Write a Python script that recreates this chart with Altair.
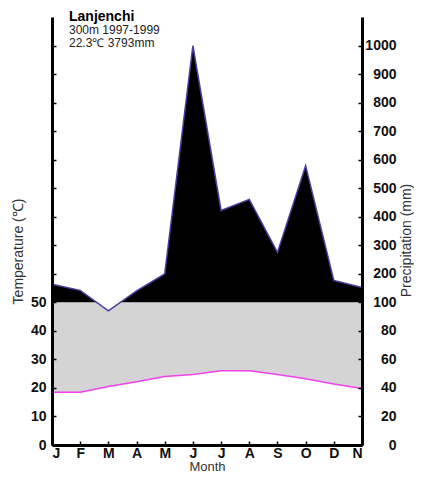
import altair as alt
import pandas as pd
import numpy as np

months = ["J", "F", "M", "A", "M", "J", "J", "A", "S", "O", "D", "N"]
temperature = [18.5, 18.5, 20.5, 22.2, 24.0, 24.7, 26.0, 26.0, 24.7, 23.2, 21.4, 19.8]
precipitation = [163, 142, 94, 140, 200, 1000, 422, 461, 275, 579, 177, 152]
title_text = "Lanjenchi"
sub1_text = "300m 1997-1999"
sub2_text = "22.3℃ 3793mm"

p = np.array(precipitation, dtype=float)
df = pd.DataFrame({
    "idx": list(range(len(months))),
    "temp": temperature,
    "precip": precipitation,
    # Walter-Lieth scaling: 100 mm = 50 C, above 100 mm compressed 1:10
    "pscaled": np.where(p <= 100, p / 2, 50 + (p - 100) / 10),
})

FONT = "Liberation Sans"
inward = alt.ExprRef(expr="-4")

yscale = alt.Scale(domain=[0, 150], nice=False, zero=False)
xscale = alt.Scale(domain=[0, 11], nice=False, zero=False)

label_expr_x = "[" + ",".join(f"'{m}'" for m in months) + "][datum.value]"

xaxis = alt.Axis(
    values=list(range(12)), labelExpr=label_expr_x, title="Month",
    tickSize=inward, tickColor="black", tickWidth=1.5,
    domainColor="black", domainWidth=3, labelPadding=5,
    labelFont=FONT, labelFontSize=14, labelFontWeight="bold", labelColor="#111",
    titleFont=FONT, titleFontSize=13, titleFontWeight="normal", titleColor="#333",
    titleY=25, titleBaseline="alphabetic", grid=False, zindex=1,
)
X = alt.X("idx:Q", scale=xscale, axis=xaxis)

left_axis = alt.Axis(
    orient="left", values=list(range(0, 150, 10)),
    labelExpr="datum.value <= 50 ? datum.value : ''",
    title="Temperature (℃)", titleAngle=270, titleX=-34, titleY=234,
    titleAlign="center", titleBaseline="middle",
    tickSize=inward, tickColor="black", tickWidth=1.5,
    domainColor="black", domainWidth=3, labelPadding=10,
    labelFont=FONT, labelFontSize=14, labelFontWeight="bold", labelColor="#111",
    titleFont=FONT, titleFontSize=14, titleFontWeight="normal", titleColor="#333",
    grid=False, zindex=1,
)
right_axis = alt.Axis(
    orient="right", values=list(range(0, 150, 10)),
    labelExpr="datum.value <= 50 ? datum.value * 2 : (datum.value - 50) * 10 + 100",
    labelAlign="right",
    title="Precipitation (mm)", titleAngle=270, titleX=44, titleY=223,
    titleAlign="center", titleBaseline="middle",
    tickSize=inward, tickColor="black", tickWidth=1.5,
    domainColor="black", domainWidth=3, labelPadding=38,
    labelFont=FONT, labelFontSize=14, labelFontWeight="bold", labelColor="#111",
    titleFont=FONT, titleFontSize=14, titleFontWeight="normal", titleColor="#333",
    grid=False, zindex=1,
)

base = alt.Chart(df)

gray = base.mark_area(color="#d4d4d4").encode(
    x=X, y=alt.Y("temp:Q", scale=yscale, axis=None), y2=alt.datum(50))
black = base.mark_area(color="black").encode(
    x=X, y=alt.Y("pscaled:Q", scale=yscale, axis=None), y2=alt.datum(50))
white = base.mark_area(color="white").encode(
    x=X, y=alt.Y("pscaled:Q", scale=yscale, axis=None), y2=alt.datum(150))
pline = base.mark_line(color="#4a3fa0", strokeWidth=1.5).encode(
    x=X, y=alt.Y("pscaled:Q", scale=yscale, axis=right_axis))
tline = base.mark_line(color="#f040f0", strokeWidth=1.5).encode(
    x=X, y=alt.Y("temp:Q", scale=yscale, axis=left_axis))

t1 = alt.Chart(alt.Data(values=[{"t": title_text}])).mark_text(
    align="left", baseline="alphabetic", font=FONT, fontSize=14,
    fontWeight="bold", color="black").encode(
    text="t:N", x=alt.value(17), y=alt.value(4))
t2 = alt.Chart(alt.Data(values=[{"t": sub1_text}])).mark_text(
    align="left", baseline="alphabetic", font=FONT, fontSize=12,
    color="#222").encode(text="t:N", x=alt.value(17), y=alt.value(17))
t3 = alt.Chart(alt.Data(values=[{"t": sub2_text}])).mark_text(
    align="left", baseline="alphabetic", font=FONT, fontSize=12,
    color="#222").encode(text="t:N", x=alt.value(17), y=alt.value(30))

chart = alt.layer(gray, black, white, pline, tline, t1, t2, t3).resolve_scale(
    y="independent").properties(
    width=310, height=428,
    autosize=alt.AutoSizeParams(type="none"),
    padding={"left": 44, "top": 9, "right": 52, "bottom": 27},
).configure_view(stroke=None).configure(background="white")

chart.save("out.html", embed_options={"renderer": "svg", "actions": False})
